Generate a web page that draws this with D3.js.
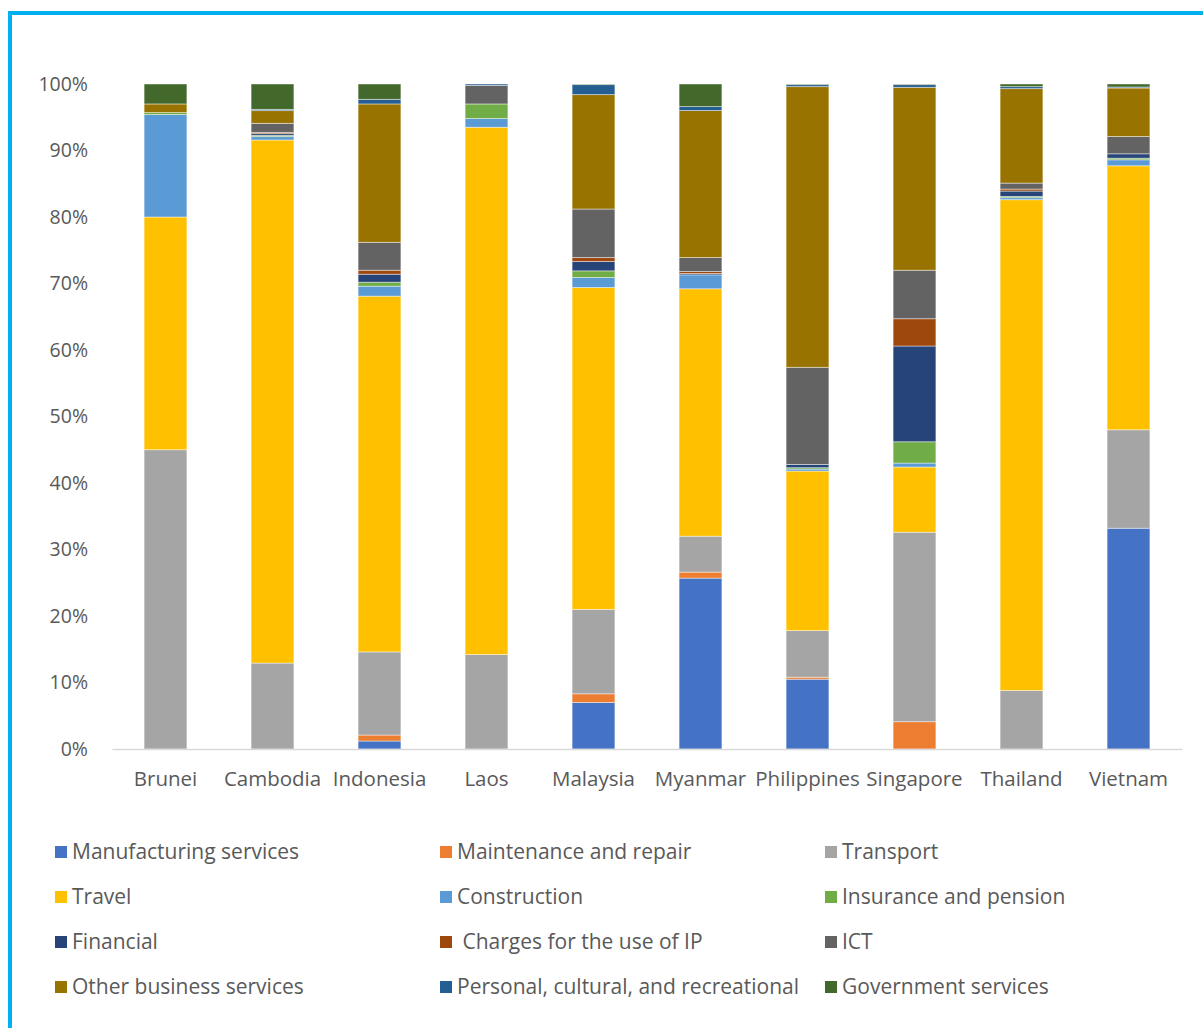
<!DOCTYPE html>
<meta charset="utf-8">
<script src="https://d3js.org/d3.v7.min.js"></script>
<style>
  body { margin: 0; background: #fff; }
  text { font-family: "Open Sans", sans-serif; fill: #595959; }
</style>
<div id="chart"></div>
<script>
// categories and series
const countries = ["Brunei", "Cambodia", "Indonesia", "Laos", "Malaysia", "Myanmar", "Philippines", "Singapore", "Thailand", "Vietnam"];

const seriesNames = ["Manufacturing services", "Maintenance and repair", "Transport", "Travel", "Construction",
  "Insurance and pension", "Financial", " Charges for the use of IP", "ICT", "Other business services",
  "Personal, cultural, and recreational", "Government services"];

const seriesColors = ["#4472C4", "#ED7D31", "#A5A5A5", "#FFC000", "#5B9BD5", "#70AD47",
  "#264478", "#9E480E", "#636363", "#997300", "#255E91", "#43682B"];

// share (%) of each series per country, in country order
const manufacturing = [0, 0, 1.2, 0, 7.0, 25.7, 10.5, 0, 0, 33.2];
const maintenance   = [0, 0, 0.9, 0, 1.3, 0.9, 0.3, 4.1, 0, 0];
const transport     = [45.0, 12.9, 12.5, 14.2, 12.7, 5.4, 7.0, 28.5, 8.8, 14.8];
const travel        = [35.0, 78.5, 53.5, 79.3, 48.4, 37.2, 24.0, 9.8, 73.8, 39.7];
const construction  = [15.4, 0.5, 1.5, 1.3, 1.5, 2.1, 0.3, 0.6, 0.3, 0.9];
const insurance     = [0.3, 0.2, 0.6, 2.2, 1.0, 0, 0.2, 3.2, 0.2, 0.25];
const financial     = [0, 0.25, 1.2, 0, 1.4, 0.2, 0.5, 14.4, 0.8, 0.65];
const ipCharges     = [0, 0.2, 0.6, 0, 0.6, 0.3, 0, 4.1, 0.3, 0];
const ict           = [0, 1.35, 4.2, 2.8, 7.3, 2.1, 14.6, 7.3, 0.9, 2.6];
const otherBusiness = [1.3, 1.9, 20.8, 0, 17.2, 22.1, 42.2, 27.5, 14.2, 7.3];
const personal      = [0, 0.2, 0.7, 0.2, 1.5, 0.6, 0.3, 0.4, 0.3, 0.15];
const government    = [3.0, 3.8, 2.3, 0, 0.1, 3.4, 0.1, 0.1, 0.4, 0.45];

const seriesValues = [manufacturing, maintenance, transport, travel, construction, insurance,
  financial, ipCharges, ict, otherBusiness, personal, government];

const yTicks = [0, 0.1, 0.2, 0.3, 0.4, 0.5, 0.6, 0.7, 0.8, 0.9, 1];

// build rows for d3.stack
const rows = countries.map((c, i) => {
  const r = { country: c };
  seriesNames.forEach((s, j) => r[s] = seriesValues[j][i]);
  return r;
});

const W = 1203, H = 1028;
const margin = { top: 84, left: 112, right: 21, bottom: 279 };
const width = W - margin.left - margin.right;
const height = H - margin.top - margin.bottom;

const svg = d3.select("#chart").append("svg")
  .attr("width", W).attr("height", H);

// frame
svg.append("path")
  .attr("d", `M10,${H} V13 H${W}`)
  .attr("fill", "none")
  .attr("stroke", "#00B0F0")
  .attr("stroke-width", 4);

const g = svg.append("g").attr("transform", `translate(${margin.left},${margin.top})`);

const x = d3.scaleBand().domain(countries).range([0, width]).paddingInner(0.6).paddingOuter(0.3);
const y = d3.scaleLinear().domain([0, 1]).range([height, 0]);

// y axis labels
g.append("g")
  .call(d3.axisLeft(y).tickValues(yTicks).tickFormat(d3.format(".0%")).tickSize(0).tickPadding(24))
  .call(a => a.select(".domain").remove())
  .selectAll("text").attr("font-size", 19.5).style("font-family", "'Open Sans', sans-serif").attr("fill", "#595959");

// 100% stacked bars
const stack = d3.stack().keys(seriesNames).offset(d3.stackOffsetExpand);
const layers = stack(rows);

g.selectAll(".layer")
  .data(layers)
  .join("g")
  .attr("class", "layer")
  .attr("fill", (d, i) => seriesColors[i])
  .selectAll("rect")
  .data(d => d)
  .join("rect")
  .attr("x", d => x(d.data.country))
  .attr("y", d => y(d[1]))
  .attr("width", x.bandwidth())
  .attr("height", d => Math.max(0, y(d[0]) - y(d[1])))
  .attr("stroke", "rgba(255,255,255,0.55)")
  .attr("stroke-width", 0.8);

// x axis
g.append("g")
  .attr("transform", `translate(0,${height})`)
  .call(d3.axisBottom(x).tickSize(0).tickPadding(22))
  .call(a => a.select(".domain").attr("stroke", "#D9D9D9").attr("stroke-width", 1.5))
  .selectAll("text").attr("font-size", 20.5).style("font-family", "'Open Sans', sans-serif").attr("fill", "#595959");

// legend
const legendX = [55, 440, 825];
const legendY = [852, 897, 942, 987];
const legend = svg.append("g");
seriesNames.forEach((s, i) => {
  const lx = legendX[i % 3], ly = legendY[Math.floor(i / 3)];
  legend.append("rect")
    .attr("x", lx).attr("y", ly - 6)
    .attr("width", 12).attr("height", 12)
    .attr("fill", seriesColors[i]);
  legend.append("text")
    .attr("x", lx + 17).attr("y", ly)
    .attr("dy", "0.35em")
    .attr("font-size", 21)
    .style("white-space", "pre")
    .text(s);
});
</script>
